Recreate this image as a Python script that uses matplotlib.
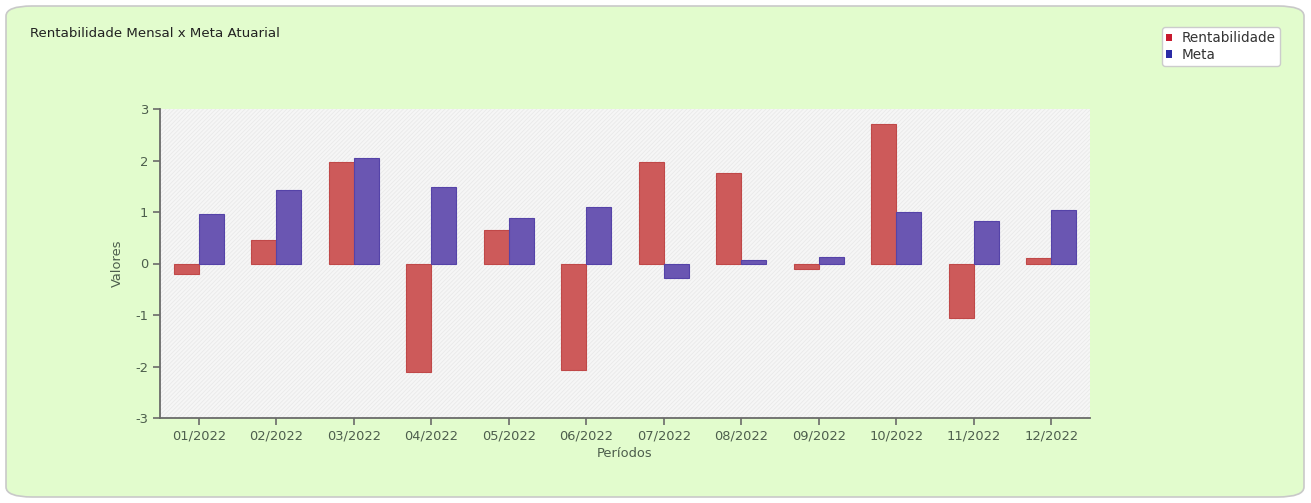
import matplotlib.pyplot as plt
import numpy as np
from matplotlib.patches import FancyBboxPatch, Patch

periodos = ['01/2022', '02/2022', '03/2022', '04/2022', '05/2022', '06/2022',
            '07/2022', '08/2022', '09/2022', '10/2022', '11/2022', '12/2022']
rentabilidade = [-0.20, 0.45, 1.98, -2.10, 0.65, -2.07, 1.98, 1.76, -0.11, 2.71, -1.05, 0.10]
meta = [0.96, 1.43, 2.05, 1.48, 0.88, 1.09, -0.28, 0.06, 0.13, 1.00, 0.82, 1.04]

plt.rcParams['font.family'] = ['DejaVu Sans']
plt.rcParams['axes.unicode_minus'] = False
plt.rcParams['hatch.color'] = '#e8e8e8'
plt.rcParams['hatch.linewidth'] = 0.6

txt_color = '#4d5e4d'

fig = plt.figure(figsize=(13.11, 5.03), dpi=100)
fig.patch.set_facecolor('white')

# outer rounded panel
panel = FancyBboxPatch((6 / 1311, 6 / 503), 1298 / 1311, 491 / 503,
                       boxstyle='round,pad=0,rounding_size=0.02',
                       transform=fig.transFigure, facecolor='#e2fccd',
                       edgecolor='#c9c9c9', linewidth=1.2, zorder=-10)
fig.patches.append(panel)

fig.text(30 / 1311, 1 - 33 / 503, 'Rentabilidade Mensal x Meta Atuarial',
         fontsize=9.6, color='#222222', va='center', ha='left')

ax = fig.add_axes([160 / 1311, 1 - 418 / 503, 930 / 1311, 309 / 503])
ax.set_facecolor('#f6f6f6')
ax.patch.set_hatch('////////')
ax.patch.set_edgecolor('#e9e9e9')

x = np.arange(len(periodos))
w = 0.32
ax.bar(x - w / 2, rentabilidade, w, color='#cd5a5a', edgecolor='#c04848',
       linewidth=0.8, zorder=3)
ax.bar(x + w / 2, meta, w, color='#6a56b2', edgecolor='#5543a8',
       linewidth=0.8, zorder=3)

ax.set_xlim(-0.5, 11.5)
ax.set_ylim(-3, 3)
ax.set_xticks(x)
ax.set_xticklabels(periodos)
ax.set_yticks(range(-3, 4))

for s in ['top', 'right']:
    ax.spines[s].set_visible(False)
for s in ['left', 'bottom']:
    ax.spines[s].set_color('#6a6a6a')
    ax.spines[s].set_linewidth(1.3)
ax.tick_params(axis='both', colors='#6a6a6a', labelcolor=txt_color,
               labelsize=9.4, length=5, width=1.2)

ax.set_xlabel('Períodos', fontsize=9.4, color=txt_color, labelpad=3)
ax.set_ylabel('Valores', fontsize=9.4, color=txt_color, labelpad=8)

handles = [Patch(facecolor='#c8192e', edgecolor='none', label='Rentabilidade'),
           Patch(facecolor='#2b2ba6', edgecolor='none', label='Meta')]
leg = fig.legend(handles=handles, loc='upper left',
                 bbox_to_anchor=(1162 / 1311, 1 - 27 / 503),
                 fontsize=9.8, frameon=True, handlelength=0.45, handleheight=0.45,
                 handletextpad=0.7, borderpad=0.3, labelspacing=0.2,
                 borderaxespad=0, fancybox=True, framealpha=1)
leg.get_frame().set_edgecolor('#cccccc')
for t in leg.get_texts():
    t.set_color('#333333')

plt.savefig('out.png', dpi=100)
